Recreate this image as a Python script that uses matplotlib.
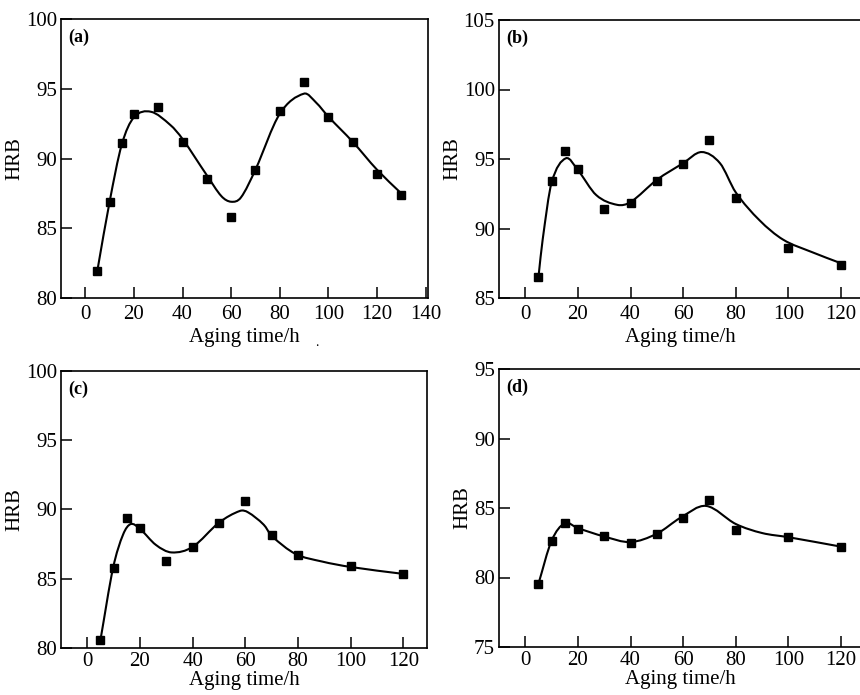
import matplotlib
matplotlib.use("Agg")
import matplotlib.pyplot as plt
from matplotlib.path import Path
from matplotlib.patches import PathPatch

# ---- measured points ----
a_x = [5, 10, 15, 20, 30, 40, 50, 60, 70, 80, 90, 100, 110, 120, 130]
a_y = [81.9, 86.9, 91.1, 93.2, 93.7, 91.2, 88.5, 85.8, 89.2, 93.4, 95.5, 93.0, 91.2, 88.9, 87.4]
b_x = [5, 10, 15, 20, 30, 40, 50, 60, 70, 80, 100, 120]
b_y = [86.5, 93.45, 95.6, 94.3, 91.4, 91.8, 93.45, 94.65, 96.4, 92.2, 88.6, 87.4]
c_x = [5, 10, 15, 20, 30, 40, 50, 60, 70, 80, 100, 120]
c_y = [80.6, 85.75, 89.4, 88.65, 86.3, 87.3, 89.05, 90.6, 88.15, 86.75, 85.9, 85.35]
d_x = [5, 10, 15, 20, 30, 40, 50, 60, 70, 80, 100, 120]
d_y = [79.55, 82.65, 83.9, 83.5, 82.95, 82.5, 83.15, 84.3, 85.6, 83.45, 82.9, 82.2]

# ---- fitted curves (knots) ----
a_cx = [5, 10, 15, 20, 27, 35, 40, 50, 56, 60, 64, 70, 80, 90, 95, 100, 110, 120, 130]
a_cy = [82.0, 86.9, 91.0, 92.95, 93.35, 92.4, 91.4, 88.8, 87.3, 86.9, 87.2, 89.2, 93.2, 94.65, 94.0, 93.0, 91.2, 89.2, 87.5]
b_cx = [5, 6.6, 10, 15.4, 20, 27, 35, 40, 50, 60, 67, 74, 80, 89, 98, 109, 120]
b_cy = [86.5, 89.2, 93.3, 95.05, 94.2, 92.4, 91.7, 91.9, 93.5, 94.7, 95.5, 94.7, 92.6, 90.6, 89.2, 88.3, 87.5]
c_cx = [5, 9.8, 13.6, 16.5, 20, 26, 32, 40, 50, 58, 61, 67, 70, 79, 89, 100, 120]
c_cy = [80.6, 85.8, 88.2, 88.95, 88.6, 87.45, 86.9, 87.3, 89.05, 89.9, 89.8, 88.9, 88.1, 86.8, 86.25, 85.85, 85.35]
d_cx = [5, 10, 15, 20, 30, 40, 50, 59, 68.7, 80, 90, 100, 120]
d_cy = [79.55, 82.65, 83.9, 83.55, 82.95, 82.55, 83.15, 84.3, 85.15, 83.85, 83.2, 82.9, 82.22]

panel_labels = ["(a)", "(b)", "(c)", "(d)"]
x_ticks = [[0, 20, 40, 60, 80, 100, 120, 140], [0, 20, 40, 60, 80, 100, 120],
           [0, 20, 40, 60, 80, 100, 120], [0, 20, 40, 60, 80, 100, 120]]
y_ticks = [[80, 85, 90, 95, 100], [85, 90, 95, 100, 105],
           [80, 85, 90, 95, 100], [75, 80, 85, 90, 95]]
x_label = "Aging time/h"
y_label = "HRB"

plt.rcParams['font.family'] = ['Liberation Serif', 'DejaVu Serif']
plt.rcParams['mathtext.fontset'] = 'stix'

W, H = 860, 695
fig = plt.figure(figsize=(W / 100, H / 100), dpi=100)


def px_axes(l, t, r, b):
    return fig.add_axes([l / W, 1 - b / H, (r - l) / W, (b - t) / H])


def smooth_path(xs, ys):
    n = len(xs)
    m = []
    for i in range(n):
        if i == 0:
            m.append((ys[1] - ys[0]) / (xs[1] - xs[0]))
        elif i == n - 1:
            m.append((ys[-1] - ys[-2]) / (xs[-1] - xs[-2]))
        else:
            m.append((ys[i + 1] - ys[i - 1]) / (xs[i + 1] - xs[i - 1]))
    verts = [(xs[0], ys[0])]
    codes = [Path.MOVETO]
    for i in range(n - 1):
        h = xs[i + 1] - xs[i]
        verts += [(xs[i] + h / 3, ys[i] + m[i] * h / 3),
                  (xs[i + 1] - h / 3, ys[i + 1] - m[i + 1] * h / 3),
                  (xs[i + 1], ys[i + 1])]
        codes += [Path.CURVE4] * 3
    return Path(verts, codes)


axes_px = [(61, 19, 428, 298), (499, 20, 862, 298), (61, 371, 427, 648), (499, 369, 862, 647)]
xlims = [(-10, 141), (-10, 128), (-10, 129), (-10, 128)]
ylims = [(80, 100), (85, 105), (80, 100), (75, 95)]
xpads = [5, 5, 3, 3]
lpads = [3, 3, 0, 0]
pts = [(a_x, a_y), (b_x, b_y), (c_x, c_y), (d_x, d_y)]
curves = [(a_cx, a_cy), (b_cx, b_cy), (c_cx, c_cy), (d_cx, d_cy)]

for k in range(4):
    ax = px_axes(*axes_px[k])
    ax.set_xlim(*xlims[k])
    ax.set_ylim(*ylims[k])
    cx, cy = curves[k]
    ax.add_patch(PathPatch(smooth_path(cx, cy), facecolor='none', edgecolor='black', lw=1.5))
    px, py = pts[k]
    ax.plot(px, py, linestyle='none', marker='s', color='black', markersize=5.5, clip_on=False)
    ax.set_xticks(x_ticks[k])
    ax.set_yticks(y_ticks[k])
    ax.tick_params(direction='in', length=8, width=1.1, labelsize=15, pad=3,
                   top=False, right=False)
    ax.tick_params(axis='x', pad=xpads[k])
    for s in ax.spines.values():
        s.set_linewidth(1.2)
    ax.set_xlabel(x_label, fontsize=15, labelpad=lpads[k])
    ax.set_ylabel(y_label, fontsize=15, labelpad=1)
    ax.text(0.02, 0.935, panel_labels[k], transform=ax.transAxes, fontsize=13,
            fontweight='bold', ha='left', va='center')

fig.text(317 / W, 1 - 343 / H, ".", fontsize=10, ha='center', va='center')

fig.savefig("out.png", dpi=100)
